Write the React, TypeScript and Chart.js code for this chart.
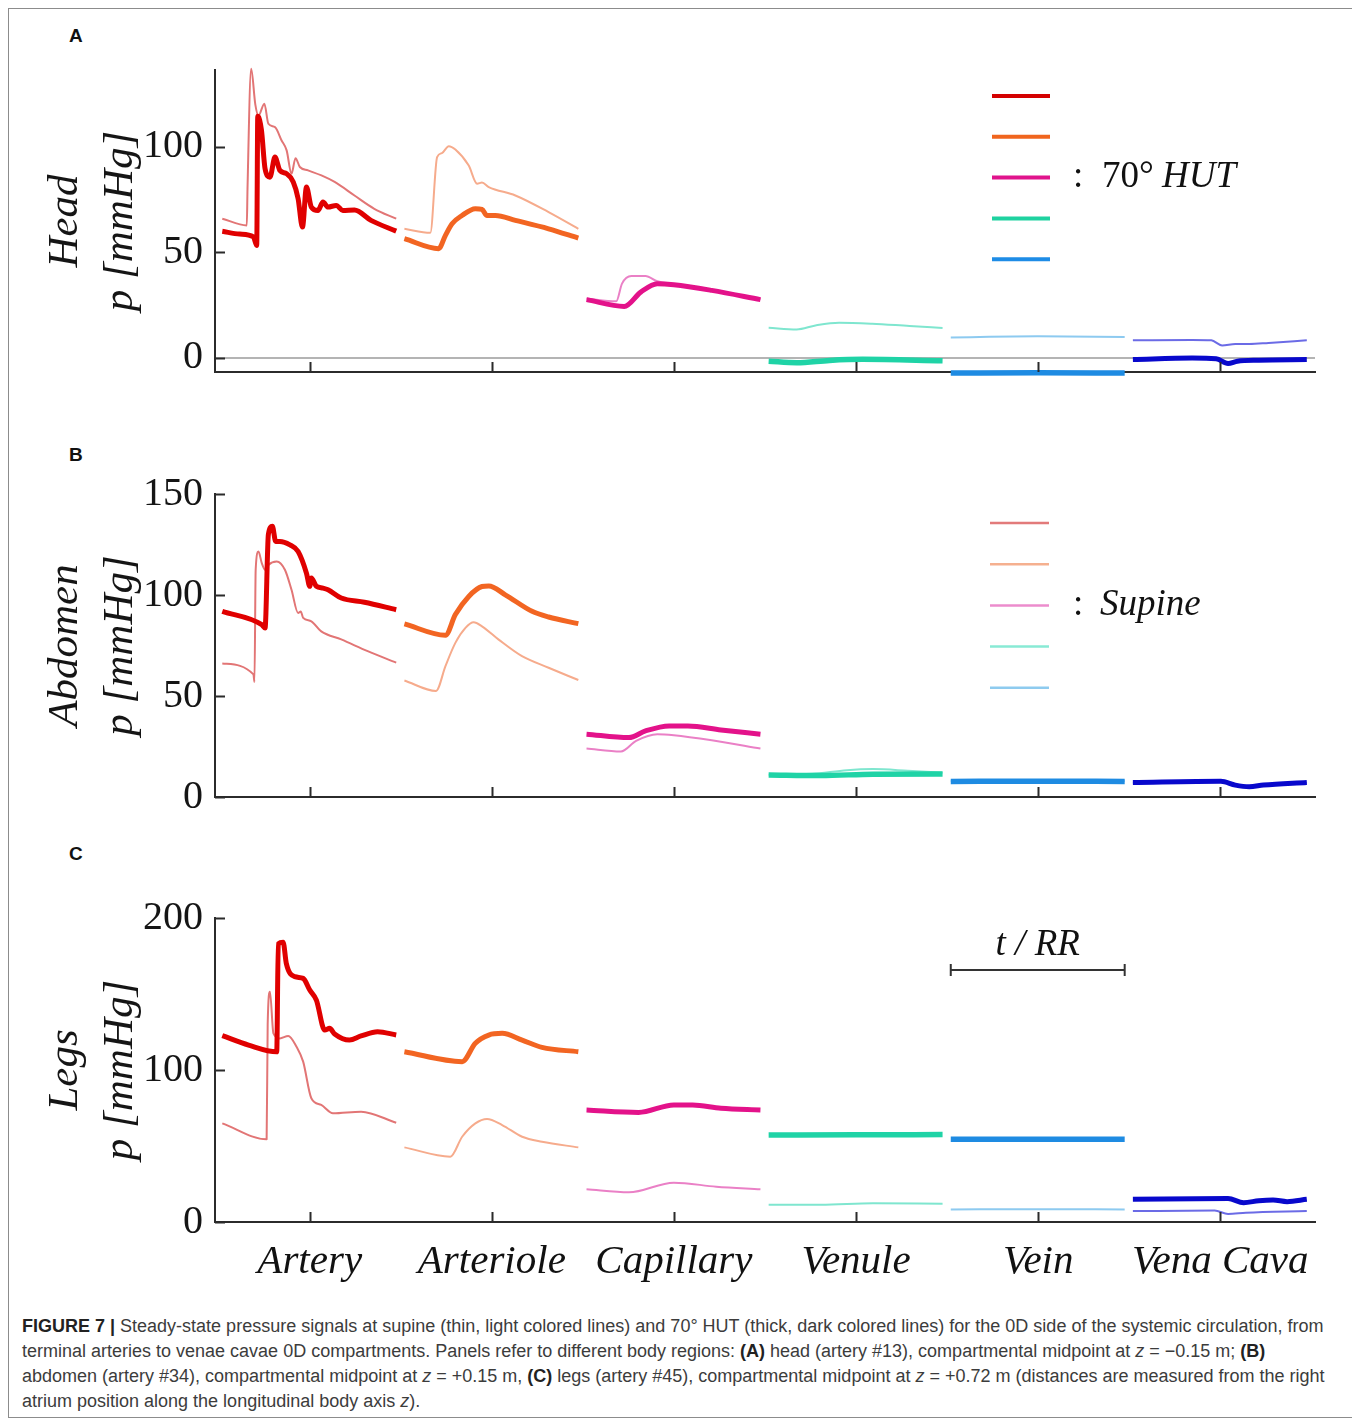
import React, { useEffect, useRef } from 'react';
import { Chart, registerables } from 'chart.js';

Chart.register(...registerables);

type Pt = [number, number]; // [t / RR, p in mmHg]

const CATEGORIES = ['Artery', 'Arteriole', 'Capillary', 'Venule', 'Vein', 'Vena Cava'];

const HEAD_TICKS = [0, 50, 100];
const ABDOMEN_TICKS = [0, 50, 100, 150];
const LEGS_TICKS = [0, 100, 200];

// ---------- Panel A: head ----------
const headHut: Pt[][] = [
  [[0, 59.9], [0.1, 58.6], [0.179, 57.3], [0.198, 53.2], [0.204, 114.5], [0.225, 108], [0.246, 89.6], [0.274, 85.6], [0.303, 95.1], [0.331, 88.8], [0.37, 87.2], [0.408, 83.3], [0.436, 75.4], [0.461, 61.9], [0.484, 80.9], [0.512, 71.4], [0.55, 69.8], [0.579, 73.8], [0.608, 71.4], [0.655, 72.2], [0.693, 69.8], [0.76, 70], [0.855, 65.1], [1, 60]],
  [[0, 56.4], [0.197, 51.7], [0.236, 58], [0.274, 63.5], [0.331, 67.4], [0.408, 70.6], [0.446, 70.3], [0.475, 67.4], [0.523, 67.4], [0.638, 65.1], [0.829, 61.1], [1, 56.7]],
  [[0, 27.5], [0.217, 24.3], [0.312, 31.1], [0.407, 35.1], [0.502, 34.6], [0.72, 31.9], [1, 27.5]],
  [[0, -1.7], [0.161, -2.4], [0.35, -1.3], [0.54, -0.8], [1, -1.5]],
  [[0, -7.3], [0.5, -7.2], [1, -7.3]],
  [[0, -0.9], [0.341, -0.2], [0.479, -0.5], [0.547, -2.8], [0.601, -1.7], [0.724, -1.2], [1, -0.9]],
];
const headSupine: Pt[][] = [
  [[0, 65.9], [0.141, 62.7], [0.145, 80], [0.166, 137], [0.19, 120], [0.208, 114.8], [0.242, 120.4], [0.265, 110.9], [0.303, 109.3], [0.341, 103], [0.37, 98.3], [0.398, 87.2], [0.421, 94.6], [0.446, 90.4], [0.493, 88.8], [0.57, 86.4], [0.646, 83.3], [0.76, 76.9], [0.874, 70.6], [1, 65.9]],
  [[0, 61.1], [0.149, 59.2], [0.188, 95.1], [0.216, 97], [0.255, 100.3], [0.293, 98.7], [0.37, 91.1], [0.418, 82.5], [0.446, 83], [0.485, 80.9], [0.638, 76.9], [0.829, 69], [1, 61.1]],
  [[0, 28], [0.171, 26.7], [0.204, 35.1], [0.258, 38.7], [0.339, 38.7], [0.407, 36.2], [0.502, 34.8], [0.72, 32.1], [1, 27.8]],
  [[0, 14.2], [0.161, 13.4], [0.269, 15.3], [0.405, 16.6], [0.595, 16.1], [0.81, 15], [1, 14.1]],
  [[0, 9.6], [0.5, 10.1], [1, 9.8]],
  [[0, 8.2], [0.341, 8.4], [0.451, 8.2], [0.513, 5.8], [0.589, 6.5], [0.669, 6.5], [0.78, 7], [1, 8.2]],
];

// ---------- Panel B: abdomen ----------
const abdomenHut: Pt[][] = [
  [[0, 91.9], [0.227, 85.3], [0.246, 83.7], [0.265, 130], [0.288, 134], [0.307, 126.5], [0.331, 126.5], [0.389, 124.8], [0.436, 121.5], [0.484, 110.8], [0.503, 104.3], [0.512, 108.4], [0.541, 104.3], [0.579, 103.4], [0.608, 102.6], [0.684, 98.5], [0.817, 96.4], [1, 92.7]],
  [[0, 85.7], [0.236, 80.1], [0.293, 90.3], [0.37, 99.3], [0.446, 104.2], [0.485, 104.5], [0.58, 100.1], [0.734, 91.9], [0.829, 89.1], [1, 85.8]],
  [[0, 31.1], [0.244, 29.4], [0.339, 32.7], [0.475, 35.2], [0.583, 35.2], [0.773, 33.2], [1, 31.1]],
  [[0, 10.9], [0.3, 10.6], [0.6, 11.3], [1, 11.4]],
  [[0, 7.7], [0.5, 7.8], [1, 7.7]],
  [[0, 7.2], [0.506, 7.8], [0.589, 5.9], [0.669, 5.1], [0.751, 5.9], [1, 7.2]],
];
const abdomenSupine: Pt[][] = [
  [[0, 66.1], [0.179, 60.7], [0.185, 56.9], [0.192, 112.5], [0.208, 121.5], [0.227, 115.8], [0.246, 112.5], [0.265, 114.9], [0.313, 116.6], [0.36, 112.5], [0.398, 102.6], [0.436, 91.1], [0.451, 91.8], [0.465, 88.7], [0.512, 87], [0.569, 82], [0.684, 78], [0.836, 72.2], [1, 66.5]],
  [[0, 57.7], [0.182, 52.5], [0.236, 64.8], [0.293, 76.3], [0.351, 83.7], [0.398, 86.5], [0.446, 84.5], [0.542, 77.9], [0.676, 69.7], [0.829, 64], [1, 57.9]],
  [[0, 24], [0.198, 22.5], [0.285, 27.8], [0.407, 31.1], [0.502, 30.6], [0.72, 28.1], [1, 24]],
  [[0, 11], [0.25, 11.5], [0.45, 13.3], [0.6, 13.8], [0.8, 13], [1, 12]],
  [[0, 7.9], [0.5, 8], [1, 7.9]],
  [[0, 7], [0.5, 7.5], [0.589, 5.8], [0.669, 5.2], [0.751, 5.8], [1, 7]],
];

// ---------- Panel C: legs ----------
const legsHut: Pt[][] = [
  [[0, 122.6], [0.151, 116.4], [0.313, 112], [0.322, 183], [0.35, 184], [0.368, 170.2], [0.417, 161.4], [0.465, 160.3], [0.503, 152.6], [0.541, 146], [0.589, 126.3], [0.617, 127.4], [0.646, 123.7], [0.731, 119.7], [0.798, 122.4], [0.893, 125.2], [1, 123]],
  [[0, 112], [0.332, 105.5], [0.408, 117.6], [0.485, 123], [0.562, 124.1], [0.677, 119.7], [0.791, 114.9], [1, 112]],
  [[0, 73.7], [0.299, 72.1], [0.502, 77], [0.61, 77], [0.773, 74.8], [1, 73.7]],
  [[0, 57.2], [0.5, 57.4], [1, 57.5]],
  [[0, 54.4], [0.5, 54.5], [1, 54.4]],
  [[0, 14.9], [0.547, 15.4], [0.637, 12.7], [0.724, 14], [0.806, 14.5], [0.887, 13.4], [1, 14.9]],
];
const legsSupine: Pt[][] = [
  [[0, 64.9], [0.255, 54.4], [0.261, 130], [0.274, 151.5], [0.294, 124.1], [0.331, 120.8], [0.379, 122.4], [0.427, 115.3], [0.465, 105.5], [0.512, 81.4], [0.569, 77], [0.636, 71.5], [0.798, 72.6], [1, 65.3]],
  [[0, 49.1], [0.264, 43], [0.332, 56.1], [0.408, 64.9], [0.475, 67.8], [0.562, 63.8], [0.677, 56.1], [0.791, 52.8], [1, 49.1]],
  [[0, 21.5], [0.244, 19.5], [0.502, 25.9], [0.746, 23.2], [1, 21.5]],
  [[0, 11.4], [0.3, 11.3], [0.6, 12.3], [1, 12]],
  [[0, 8.3], [0.5, 8.4], [1, 8.3]],
  [[0, 7.2], [0.47, 7.5], [0.547, 5.3], [0.65, 6.1], [1, 7.2]],
];

const HUT_COLORS = ['#e00000', '#f26522', '#e3128a', '#1fd3a6', '#1e8be2', '#0808cc'];
const SUPINE_COLORS = ['#e27575', '#f6ab8c', '#ea80c6', '#7fe6cf', '#8dcaf0', '#6b6be6'];
const HUT_LEGEND_COLORS = ['#d40000', '#f0651e', '#e0148c', '#1ed2a0', '#1e8ce6'];
const SUPINE_LEGEND_COLORS = ['#e27a7a', '#f5b08f', '#ec8ccd', '#88ead5', '#8ecbef'];

// each compartment occupies [i + SEG_START, i + SEG_START + SEG_WIDTH] on the x scale
const SEG_START = 0.02;
const SEG_WIDTH = 0.955;

const SERIF = '"Liberation Serif", "Times New Roman", serif';
const SANS = '"Liberation Sans", Arial, Helvetica, sans-serif';
const AXIS_COLOR = '#2b2b2b';
const TOP_PAD = 36;

const inwardTicks = {
  id: 'inwardTicks',
  afterDraw(chart: any) {
    const { ctx, chartArea: a, scales } = chart;
    ctx.save();
    ctx.strokeStyle = AXIS_COLOR;
    ctx.lineWidth = 2;
    ctx.beginPath();
    scales.x.ticks.forEach((t: any) => {
      const px = Math.round(scales.x.getPixelForValue(t.value)) + 0.5;
      ctx.moveTo(px, a.bottom);
      ctx.lineTo(px, a.bottom - 10);
    });
    scales.y.ticks.forEach((t: any) => {
      const py = Math.round(scales.y.getPixelForValue(t.value)) + 0.5;
      ctx.moveTo(a.left, py);
      ctx.lineTo(a.left + 10, py);
    });
    ctx.stroke();
    ctx.restore();
  },
};

const overlay = {
  id: 'panelOverlay',
  afterDraw(chart: any, _args: any, opts: any) {
    const { ctx, chartArea: a, scales } = chart;
    ctx.save();
    ctx.fillStyle = '#111';
    if (opts.kind === 'hut' || opts.kind === 'supine') {
      const hut = opts.kind === 'hut';
      const colors = hut ? HUT_LEGEND_COLORS : SUPINE_LEGEND_COLORS;
      const first = hut ? 26 : 29;
      const step = hut ? 40.8 : 41.2;
      const x0 = a.left + (hut ? 777 : 775);
      const x1 = a.left + (hut ? 835 : 834);
      ctx.lineWidth = hut ? 4 : 2.5;
      colors.forEach((c, k) => {
        const y = a.top + first + step * k;
        ctx.strokeStyle = c;
        ctx.beginPath();
        ctx.moveTo(x0, y);
        ctx.lineTo(x1, y);
        ctx.stroke();
      });
      const ty = a.top + first + step * 2;
      ctx.textBaseline = 'middle';
      ctx.textAlign = 'left';
      ctx.font = `37px ${SERIF}`;
      ctx.fillText(':', a.left + 858, ty);
      if (hut) {
        ctx.fillText('70°', a.left + 887, ty);
        ctx.font = `italic 37px ${SERIF}`;
        ctx.fillText('HUT', a.left + 947, ty);
      } else {
        ctx.font = `italic 37px ${SERIF}`;
        ctx.fillText('Supine', a.left + 885, ty);
      }
    }
    if (opts.kind === 'scale') {
      const x0 = scales.x.getPixelForValue(4 + SEG_START);
      const x1 = scales.x.getPixelForValue(4 + SEG_START + SEG_WIDTH);
      const y = a.top + 52;
      ctx.strokeStyle = '#333';
      ctx.lineWidth = 2;
      ctx.beginPath();
      ctx.moveTo(x0, y);
      ctx.lineTo(x1, y);
      ctx.moveTo(x0, y - 6);
      ctx.lineTo(x0, y + 6);
      ctx.moveTo(x1, y - 6);
      ctx.lineTo(x1, y + 6);
      ctx.stroke();
      ctx.font = `italic 37px ${SERIF}`;
      ctx.textAlign = 'center';
      ctx.textBaseline = 'middle';
      ctx.fillText('t / RR', (x0 + x1) / 2, a.top + 27);
    }
    ctx.restore();
  },
};

type PanelProps = {
  hut: Pt[][];
  supine: Pt[][];
  yMin: number;
  yMax: number;
  yTicks: number[];
  region: string;
  showXLabels: boolean;
  zeroLine: boolean;
  kind: string;
  top: number;
  height: number;
  xAxisHeight: number;
};

function Panel(p: PanelProps) {
  const ref = useRef<HTMLCanvasElement>(null);
  useEffect(() => {
    if (!ref.current) return;
    const toXY = (pts: Pt[], i: number) =>
      pts.map(([t, v]) => ({ x: i + SEG_START + SEG_WIDTH * t, y: v }));
    const datasets: any[] = [];
    p.hut.forEach((pts, i) => {
      datasets.push({
        data: toXY(pts, i),
        borderColor: HUT_COLORS[i],
        borderWidth: i === 3 || i === 4 ? 5.5 : 5,
        order: 0,
      });
    });
    p.supine.forEach((pts, i) => {
      datasets.push({
        data: toXY(pts, i),
        borderColor: SUPINE_COLORS[i],
        borderWidth: 2,
        order: 1,
      });
    });
    datasets.forEach((d) => {
      d.pointRadius = 0;
      d.fill = false;
      d.clip = false;
      d.cubicInterpolationMode = 'monotone';
      d.borderJoinStyle = 'round';
    });
    const xTickValues = CATEGORIES.map((_, i) => i + 0.5);
    const chart = new Chart(ref.current, {
      type: 'line',
      data: { datasets },
      options: {
        responsive: false,
        animation: false,
        events: [],
        layout: { padding: { top: TOP_PAD, right: 35, left: 0, bottom: 0 } },
        plugins: {
          legend: { display: false },
          tooltip: { enabled: false },
          panelOverlay: { kind: p.kind },
        } as any,
        scales: {
          x: {
            type: 'linear',
            min: -0.02,
            max: 6.02,
            afterBuildTicks: (s: any) => {
              s.ticks = xTickValues.map((v) => ({ value: v }));
            },
            afterFit: (s: any) => {
              s.height = p.xAxisHeight;
            },
            ticks: {
              display: p.showXLabels,
              autoSkip: false,
              maxRotation: 0,
              padding: 8,
              color: '#111',
              font: { family: SERIF, size: 41, style: 'italic' },
              callback: (_v: any, idx: number) => CATEGORIES[idx],
            },
            grid: { display: false },
            border: { display: true, color: AXIS_COLOR, width: 2 },
          },
          y: {
            type: 'linear',
            min: p.yMin,
            max: p.yMax,
            afterBuildTicks: (s: any) => {
              s.ticks = p.yTicks.map((v) => ({ value: v }));
            },
            afterFit: (s: any) => {
              s.width = 205;
            },
            ticks: {
              padding: 12,
              color: '#151515',
              font: { family: SERIF, size: 40 },
            },
            grid: {
              display: p.zeroLine,
              drawTicks: false,
              lineWidth: 2,
              color: (c: any) => (c.tick && c.tick.value === 0 ? '#b4b4b4' : 'rgba(0,0,0,0)'),
            },
            border: { display: true, color: AXIS_COLOR, width: 2 },
            title: {
              display: true,
              text: [p.region, 'p [mmHg]'],
              color: '#151515',
              font: { family: SERIF, size: 43, style: 'italic', lineHeight: 1.28 },
              padding: { top: 28.5, bottom: 0 },
            },
          },
        },
      } as any,
      plugins: [inwardTicks, overlay],
    });
    return () => chart.destroy();
  }, []);
  return (
    <canvas
      ref={ref}
      width={1340}
      height={p.height}
      style={{ position: 'absolute', left: 1, top: p.top, width: 1340, height: p.height }}
    />
  );
}

const labelStyle = (top: number): React.CSSProperties => ({
  position: 'absolute',
  left: 60,
  top,
  fontFamily: SANS,
  fontWeight: 'bold',
  fontSize: 19,
  lineHeight: '20px',
  color: '#111',
});

export default function App() {
  return (
    <div
      style={{
        position: 'relative',
        width: 1346,
        height: 1408,
        border: '1px solid #8c8c8c',
        background: '#fff',
      }}
    >
      <div style={labelStyle(17)}>A</div>
      <div style={labelStyle(436)}>B</div>
      <div style={labelStyle(835)}>C</div>
      <Panel hut={headHut} supine={headSupine} yMin={-6.8} yMax={136.4} yTicks={HEAD_TICKS}
        region="Head" showXLabels={false} zeroLine={true} kind="hut" top={61 - TOP_PAD} height={TOP_PAD + 302 + 48} xAxisHeight={48} />
      <Panel hut={abdomenHut} supine={abdomenSupine} yMin={0} yMax={150} yTicks={ABDOMEN_TICKS}
        region="Abdomen" showXLabels={false} zeroLine={false} kind="supine" top={485 - TOP_PAD} height={TOP_PAD + 303 + 48} xAxisHeight={48} />
      <Panel hut={legsHut} supine={legsSupine} yMin={0} yMax={200} yTicks={LEGS_TICKS}
        region="Legs" showXLabels={true} zeroLine={false} kind="scale" top={909 - TOP_PAD} height={TOP_PAD + 304 + 80} xAxisHeight={80} />
      <div
        style={{
          position: 'absolute',
          left: 13,
          top: 1305,
          fontFamily: SANS,
          fontSize: 18,
          lineHeight: '25px',
          color: '#3c3c3c',
          whiteSpace: 'nowrap',
        }}
      >
        <div>
          <b style={{ color: '#222' }}>FIGURE 7 |</b> Steady-state pressure signals at supine (thin, light colored lines) and 70° HUT (thick, dark colored lines) for the 0D side of the systemic circulation, from
        </div>
        <div>
          terminal arteries to venae cavae 0D compartments. Panels refer to different body regions: <b style={{ color: '#222' }}>(A)</b> head (artery #13), compartmental midpoint at <i>z</i> = −0.15 m; <b style={{ color: '#222' }}>(B)</b>
        </div>
        <div>
          abdomen (artery #34), compartmental midpoint at <i>z</i> = +0.15 m, <b style={{ color: '#222' }}>(C)</b> legs (artery #45), compartmental midpoint at <i>z</i> = +0.72 m (distances are measured from the right
        </div>
        <div>
          atrium position along the longitudinal body axis <i>z</i>).
        </div>
      </div>
    </div>
  );
}
